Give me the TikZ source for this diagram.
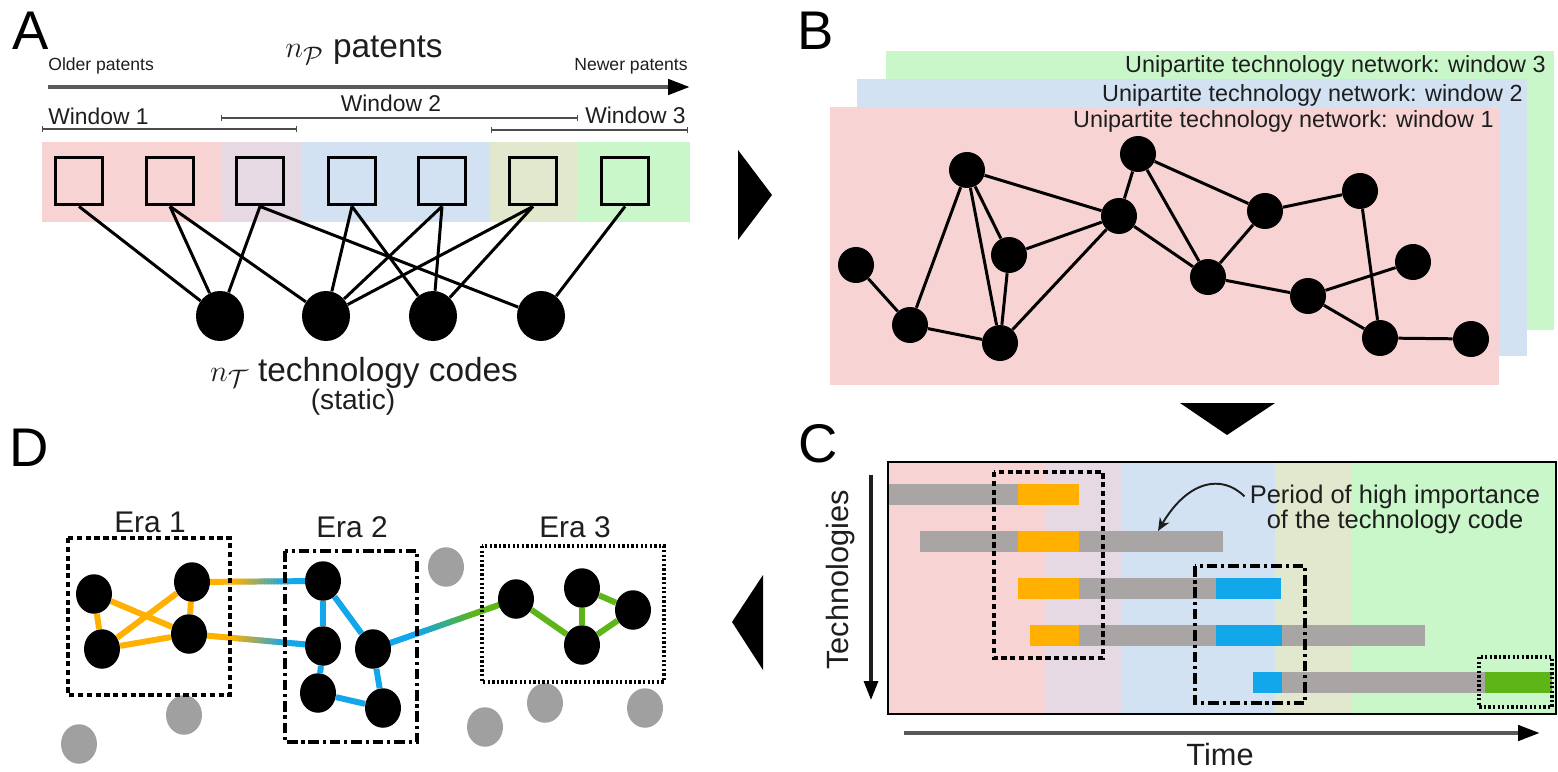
\documentclass[tikz,border=0pt]{standalone}
\usepackage{fontspec}
\setmainfont{Liberation Sans}
\usepackage{xcolor}
\usetikzlibrary{
    shapes.geometric,
    arrows.meta,
    positioning,
    calc
}
\definecolor{winpink}{HTML}{F8D3D3}
\definecolor{winmauve}{HTML}{E6D9E3}
\definecolor{winblue}{HTML}{D3E2F3}
\definecolor{winolive}{HTML}{E2E8CD}
\definecolor{wingreen}{HTML}{CAF7CA}
\definecolor{bargrey}{HTML}{A9A5A5}
\definecolor{eraorange}{HTML}{FFB000}
\definecolor{erablue}{HTML}{12A6EA}
\definecolor{eragreen}{HTML}{5DB517}
\definecolor{dotgrey}{HTML}{A0A0A0}
\definecolor{dark}{HTML}{1E1E1E}
\pgfdeclarelayer{background}
\pgfdeclarelayer{edges}
\pgfsetlayers{background,edges,main}
\tikzset{
    % Panel letters
    panel label/.style={
        font=\fontsize{31}{31}\selectfont,
        text=black,
        inner sep=0pt
    },
    % Big axis titles
    axis title/.style={
        font=\fontsize{19}{19}\selectfont,
        text=dark,
        inner sep=0pt
    },
    small note/.style={
        font=\fontsize{10}{10}\selectfont,
        text=dark,
        inner sep=0pt
    },
    window label/.style={
        font=\fontsize{13}{13}\selectfont,
        text=dark,
        inner sep=0pt
    },
    net title/.style={
        font=\fontsize{13.3}{13.3}\selectfont,
        text=dark,
        inner sep=0pt
    },
    % Bipartite network
    patent/.style={
        rectangle,
        draw=black,
        line width=2.2pt,
        minimum size=9.4mm,
        inner sep=0pt
    },
    techcode/.style={
        ellipse,
        fill=black,
        minimum width=9.6mm,
        minimum height=10mm,
        inner sep=0pt
    },
    bip edge/.style={
        line width=1.7pt,
        black
    },
    % Unipartite network
    netnode/.style={
        circle,
        fill=black,
        minimum size=7.2mm,
        inner sep=0pt
    },
    net edge/.style={
        line width=1.7pt,
        black
    },
    % Eras
    eranode/.style={
        ellipse,
        fill=black,
        minimum width=7.2mm,
        minimum height=7.9mm,
        inner sep=0pt
    },
    faded/.style={
        eranode,
        fill=dotgrey
    },
    era edge/.style={
        line width=3.4pt,
        draw=#1
    },
    % Arrows
    axis arrow/.style={
        -{Triangle[length=4.4mm, width=3mm, black]},
        line width=2.6pt,
        draw=black!65
    },
    tech arrow/.style={
        -{Triangle[length=3.8mm, width=2.8mm, black]},
        line width=1.8pt,
        draw=dark
    },
    note arrow/.style={
        -{Stealth[length=2.6mm, width=2.2mm]},
        line width=1.1pt,
        draw=dark
    },
    window bar/.style={
        {Bar[width=1.2mm]}-{Bar[width=1.2mm]},
        line width=0.6pt,
        draw=black!70
    },
    % Highlight frames
    frame dashed/.style={
        draw=black,
        line width=2pt,
        dash pattern=on 3pt off 2pt
    },
    frame dashdot/.style={
        draw=black,
        line width=2pt,
        dash pattern=on 6pt off 2.2pt on 1.8pt off 2.2pt
    },
    frame dotted/.style={
        draw=black,
        line width=2pt,
        dash pattern=on 1.3pt off 1.3pt
    }
}

\begin{document}
\begin{tikzpicture}[x=0.2mm, y=-0.2mm]
        \useasboundingbox (0,0) rectangle (1558,772);

        % Panel A: bipartite patent network
        \node[panel label] (labA) at (31,31) {A};
        \node[axis title, anchor=base] (np) at (364,58) {$n_{\mathcal{P}}$ patents};
        \node[small note, anchor=base west] (older) at (48,71) {Older patents};
        \node[small note, anchor=base east] (newer) at (688,71) {Newer patents};
        \coordinate (oldend) at (48,87);
        \coordinate (newend) at (690,87);
        \draw[axis arrow] (oldend) -- (newend);

        % Windows
        \coordinate (w1a) at (42,129);
        \coordinate (w1b) at (297,129);
        \coordinate (w2a) at (221,118);
        \coordinate (w2b) at (578,118);
        \coordinate (w3a) at (491,130);
        \coordinate (w3b) at (688,130);
        \draw[window bar] (w1a) -- (w1b);
        \draw[window bar] (w2a) -- (w2b);
        \draw[window bar] (w3a) -- (w3b);
        \node[window label, anchor=base west] (win1) at (48,125) {Window 1};
        \node[window label, anchor=base] (win2) at (391,112) {Window 2};
        \node[window label, anchor=base east] (win3) at (686,124) {Window 3};

        \fill[winpink] (42,142) rectangle (221,222);
        \fill[winmauve] (221,142) rectangle (301,222);
        \fill[winblue] (301,142) rectangle (490,222);
        \fill[winolive] (490,142) rectangle (577,222);
        \fill[wingreen] (577,142) rectangle (690,222);

        \foreach \i/\x in {1/79, 2/170, 3/260, 4/352, 5/442, 6/533, 7/625}
            \node[patent] (p\i) at (\x,181) {};
        \foreach \i/\x in {1/220, 2/326, 3/433, 4/541}
            \node[techcode] (t\i) at (\x,316) {};
        \foreach \a/\b in {1/1, 2/1, 2/2, 3/1, 3/4, 4/2, 4/3, 5/2, 5/3, 6/2, 6/3, 7/4}
            \draw[bip edge] (p\a.south) -- (t\b);

        \node[axis title, anchor=base] (nt) at (364,381) {$n_{\mathcal{T}}$ technology codes};
        \node[axis title, font=\fontsize{16}{16}\selectfont, anchor=base] (static) at (353,409) {(static)};

        % Panel B: unipartite networks per window
        \node[panel label] (labB) at (816,31) {B};
        \fill[wingreen] (886,51) rectangle (1554,330);
        \fill[winblue] (857,79) rectangle (1527,356);
        \fill[winpink] (830,107) rectangle (1499,385);
        \node[net title, anchor=base east] (uni3) at (1546,73) {Unipartite technology network: window 3};
        \node[net title, anchor=base east] (uni2) at (1523,102) {Unipartite technology network: window 2};
        \node[net title, anchor=base east] (uni1) at (1494,128) {Unipartite technology network: window 1};

        \foreach \n/\x/\y in {1/856/265, 2/910/325, 3/967/170, 4/1009/255, 5/1000/343,
                6/1119/216, 7/1138/154, 8/1208/277, 9/1265/211, 10/1360/191,
                11/1413/262, 12/1308/296, 13/1380/338, 14/1471/339}
            \node[netnode] (u\n) at (\x,\y) {};
        \foreach \a/\b in {1/2, 2/3, 2/5, 3/5, 3/4, 3/6, 4/5, 4/6, 5/6, 6/7,
                6/8, 7/8, 7/9, 9/8, 9/10, 10/13, 8/12, 12/11, 12/13, 13/14}
            \draw[net edge] (u\a) -- (u\b);

        % Step triangles
        \fill[black] (738,150) -- (738,240) -- (772,195) -- cycle;
        \fill[black] (1180,403) -- (1275,403) -- (1227,435) -- cycle;
        \fill[black] (763,575) -- (763,670) -- (732,622) -- cycle;

        % Panel C: importance over time
        \node[panel label] (labC) at (818,444) {C};
        \fill[winpink] (888,462) rectangle (1045,714);
        \fill[winmauve] (1045,462) rectangle (1121,714);
        \fill[winblue] (1121,462) rectangle (1275,714);
        \fill[winolive] (1275,462) rectangle (1351,714);
        \fill[wingreen] (1351,462) rectangle (1556,714);

        \foreach \xa/\xb/\y/\col in {888/1018/494/bargrey, 1018/1079/494/eraorange,
                920/1223/541/bargrey, 1018/1079/541/eraorange,
                1018/1079/588/eraorange, 1079/1216/588/bargrey, 1216/1281/588/erablue,
                1030/1079/635/eraorange, 1079/1216/635/bargrey, 1216/1282/635/erablue, 1282/1425/635/bargrey,
                1253/1282/682/erablue, 1282/1485/682/bargrey, 1485/1552/682/eragreen}
            \fill[\col] (\xa,\y-10.5) rectangle (\xb,\y+10.5);

        \draw[black, line width=1.4pt] (888,462) rectangle (1556,714);
        \draw[frame dashed] (994,472) rectangle (1103,658);
        \draw[frame dashdot] (1195,566) rectangle (1305,703);
        \draw[frame dotted] (1479,657) rectangle (1552,707);

        \node[window label, font=\fontsize{14.5}{14.5}\selectfont, anchor=base] (per1) at (1395,503) {Period of high importance};
        \node[window label, font=\fontsize{14.5}{14.5}\selectfont, anchor=base] (per2) at (1395,528) {of the technology code};
        \coordinate (hint) at (1158,531);
        \draw[note arrow] ([xshift=-1mm]per1.west) .. controls (1222,474) and (1188,480) .. (hint);

        \node[axis title, font=\fontsize{17.5}{17.5}\selectfont, rotate=90] (techs) at (841,580) {Technologies};
        \coordinate (techtop) at (871,475);
        \coordinate (techbot) at (871,700);
        \draw[tech arrow] (techtop) -- (techbot);
        \coordinate (time0) at (904,733);
        \coordinate (time1) at (1540,733);
        \draw[axis arrow] (time0) -- (time1);
        \node[axis title, font=\fontsize{17.5}{17.5}\selectfont, anchor=base] (time) at (1220,765) {Time};

        % Panel D: eras
        \node[panel label] (labD) at (29,448) {D};
        \node[axis title, font=\fontsize{17}{17}\selectfont] (era1) at (150,522) {Era 1};
        \node[axis title, font=\fontsize{17}{17}\selectfont] (era2) at (352,527) {Era 2};
        \node[axis title, font=\fontsize{17}{17}\selectfont] (era3) at (575,527) {Era 3};

        \foreach \n/\x/\y in {1/94/594, 2/192/582, 3/189/634, 4/102/649}
            \node[eranode] (a\n) at (\x,\y) {};
        \foreach \n/\x/\y in {1/323/581, 2/323/646, 3/373/649, 4/318/693, 5/383/708}
            \node[eranode] (b\n) at (\x,\y) {};
        \foreach \n/\x/\y in {1/516/599, 2/582/588, 3/633/610, 4/582/645}
            \node[eranode] (c\n) at (\x,\y) {};
        \foreach \n/\x/\y in {1/446/567, 2/184/715, 3/79/744, 4/485/727, 5/545/703, 6/645/708}
            \node[faded] (f\n) at (\x,\y) {};

        \begin{pgfonlayer}{edges}
            \foreach \a/\b in {1/4, 1/3, 4/2, 4/3, 2/3}
                \draw[era edge=eraorange] (a\a) -- (a\b);
            \foreach \a/\b in {1/2, 1/3, 2/4, 4/5, 3/5}
                \draw[era edge=erablue] (b\a) -- (b\b);
            \foreach \a/\b in {1/4, 2/4, 2/3, 3/4}
                \draw[era edge=eragreen] (c\a) -- (c\b);
            % links between eras, colour fades from one era to the next
            \foreach \s/\t/\ca/\cb in {a2/b1/eraorange/erablue, a3/b2/eraorange/erablue, b3/c1/erablue/eragreen}
                \foreach \i in {0,...,39} {
                    \pgfmathtruncatemacro\pct{100-100*min(max((\i/39-0.32)/0.4,0),1)}
                    \draw[era edge={\ca!\pct!\cb}] ($(\s)!{\i/40}!(\t)$) -- ($(\s)!{(\i+1.3)/40}!(\t)$);
                }
        \end{pgfonlayer}

        \draw[frame dashed] (68,538) rectangle (230,695);
        \draw[frame dashdot] (285,551) rectangle (417,742);
        \draw[frame dotted] (482,546) rectangle (664,682);

    \end{tikzpicture}
\end{document}
